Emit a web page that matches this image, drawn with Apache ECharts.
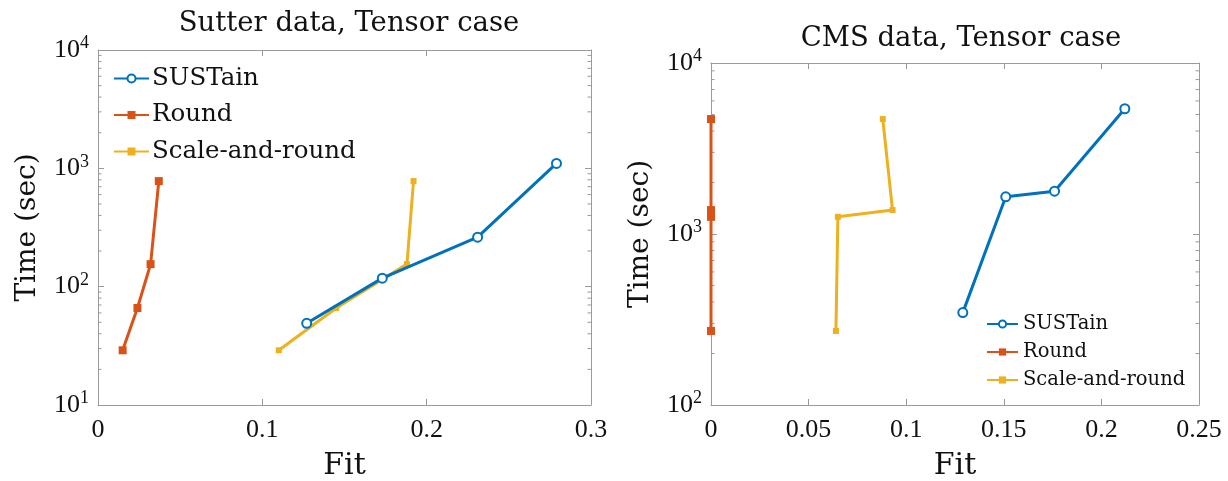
<!DOCTYPE html>
<html>
<head>
<meta charset="utf-8">
<script src="https://cdn.jsdelivr.net/npm/echarts@6/dist/echarts.min.js"></script>
<style>
	html, body { margin: 0; padding: 0; background: #fff; }
	#main { width: 1228px; height: 481px; }
</style>
</head>
<body>
<div id="main"></div>
<script>
	var seriesNames = ['SUSTain', 'Round', 'Scale-and-round'];
	var colors = ['#0072BD', '#D95319', '#EDB120'];

	// Sutter data, Tensor case
	var sutterSustainFit = [0.127, 0.173, 0.231, 0.279];
	var sutterSustainTime = [49, 118, 262, 1100];
	var sutterRoundFit = [0.015, 0.024, 0.032, 0.037];
	var sutterRoundTime = [29, 66, 155, 780];
	var sutterScaleFit = [0.110, 0.145, 0.188, 0.192];
	var sutterScaleTime = [29, 66, 155, 780];

	// CMS data, Tensor case
	var cmsSustainFit = [0.129, 0.151, 0.176, 0.212];
	var cmsSustainTime = [347, 1650, 1780, 5400];
	var cmsRoundFit = [0, 0, 0, 0];
	var cmsRoundTime = [271, 1260, 1380, 4700];
	var cmsScaleFit = [0.064, 0.065, 0.093, 0.088];
	var cmsScaleTime = [271, 1260, 1380, 4700];

	var titles = ['Sutter data, Tensor case', 'CMS data, Tensor case'];

	// words in a wide serif, numbers in a narrow one (closest to the LaTeX look)
	var wordFont = '"DejaVu Serif", "Liberation Serif", serif';
	var numFont = '"Liberation Serif", "DejaVu Serif", serif';
	var axisGrey = '#9a9a9a';

	function pairs(xs, ys) {
		return xs.map(function (x, i) { return [x, ys[i]]; });
	}

	function powLabel(v) {
		var e = Math.round(Math.log(v) / Math.LN10);
		return '{b|10}{s|' + e + '}';
	}

	function xAxisOf(grid, max, interval, top) {
		return {
			gridIndex: grid, type: 'value', min: 0, max: max, interval: interval,
			position: top ? 'top' : 'bottom',
			name: top ? '' : 'Fit', nameLocation: 'middle', nameGap: 46,
			nameTextStyle: { fontFamily: wordFont, fontSize: 30, color: '#111' },
			axisLine: { show: true, onZero: false, lineStyle: { color: axisGrey, width: 1 } },
			axisTick: { show: true, inside: true, length: 6, lineStyle: { color: axisGrey } },
			axisLabel: {
				show: !top, margin: 12, fontFamily: numFont, fontSize: 26, color: '#111',
				formatter: function (v) { return String(+v.toFixed(2)); }
			},
			splitLine: { show: false }
		};
	}

	function yAxisOf(grid, min, right) {
		return {
			gridIndex: grid, type: 'log', logBase: 10, min: min, max: 10000,
			position: right ? 'right' : 'left',
			name: right ? '' : 'Time (sec)', nameLocation: 'middle', nameGap: 56,
			nameTextStyle: { fontFamily: wordFont, fontSize: 28, color: '#111' },
			axisLine: { show: true, onZero: false, lineStyle: { color: axisGrey, width: 1 } },
			axisTick: { show: true, inside: true, length: 6, lineStyle: { color: axisGrey } },
			axisLabel: {
				show: !right, margin: 9, formatter: powLabel,
				rich: {
					b: { fontFamily: numFont, fontSize: 26, color: '#111' },
					s: { fontFamily: numFont, fontSize: 18, color: '#111', verticalAlign: 'bottom', padding: [0, 0, 13, 0] }
				}
			},
			splitLine: { show: false }
		};
	}

	function lineSeries(name, idx, grid, data) {
		var sym = ['emptyCircle', 'rect', 'rect'][idx];
		var size = [9, 8, 6][idx];
		return {
			name: name, type: 'line', xAxisIndex: grid * 2, yAxisIndex: grid * 2,
			data: data, symbol: sym, symbolSize: size, showSymbol: true,
			lineStyle: { color: colors[idx], width: 3 },
			itemStyle: { color: colors[idx], borderColor: colors[idx], borderWidth: idx === 0 ? 3 : 0 },
			animation: false, z: 3 - idx
		};
	}

	var chart = echarts.init(document.getElementById('main'), null, { renderer: 'canvas' });

	var option = {
		animation: false,
		color: colors,
		title: [
			{ text: titles[0], left: 344, top: 5, textAlign: 'center',
				textStyle: { fontFamily: wordFont, fontSize: 27.5, fontWeight: 'normal', color: '#111' } },
			{ text: titles[1], left: 956, top: 20, textAlign: 'center',
				textStyle: { fontFamily: wordFont, fontSize: 27.5, fontWeight: 'normal', color: '#111' } }
		],
		legend: [
			{
				data: seriesNames, orient: 'vertical', left: 113, top: 66, padding: 0,
				itemWidth: 35, itemHeight: 10, itemGap: 11.5,
				textStyle: { fontFamily: wordFont, fontSize: 24.5, color: '#111', padding: [0, 0, 0, -2] }
			},
			{
				data: seriesNames, orient: 'vertical', left: 986, top: 314, padding: 0,
				itemWidth: 31, itemHeight: 9, itemGap: 8,
				textStyle: { fontFamily: wordFont, fontSize: 19.5, color: '#111', padding: [0, 0, 0, 0] }
			}
		],
		grid: [
			{ left: 98, top: 50, width: 493, height: 355, outerBoundsMode: 'none' },
			{ left: 711, top: 63, width: 488, height: 342, outerBoundsMode: 'none' }
		],
		xAxis: [
			xAxisOf(0, 0.3, 0.1, false), xAxisOf(0, 0.3, 0.1, true),
			xAxisOf(1, 0.25, 0.05, false), xAxisOf(1, 0.25, 0.05, true)
		],
		yAxis: [
			yAxisOf(0, 10, false), yAxisOf(0, 10, true),
			yAxisOf(1, 100, false), yAxisOf(1, 100, true)
		],
		series: [
			lineSeries(seriesNames[0], 0, 0, pairs(sutterSustainFit, sutterSustainTime)),
			lineSeries(seriesNames[1], 1, 0, pairs(sutterRoundFit, sutterRoundTime)),
			lineSeries(seriesNames[2], 2, 0, pairs(sutterScaleFit, sutterScaleTime)),
			lineSeries(seriesNames[0], 0, 1, pairs(cmsSustainFit, cmsSustainTime)),
			lineSeries(seriesNames[1], 1, 1, pairs(cmsRoundFit, cmsRoundTime)),
			lineSeries(seriesNames[2], 2, 1, pairs(cmsScaleFit, cmsScaleTime))
		]
	};
	chart.setOption(option);

	// minor log ticks (2..9 x 10^k) on both sides of each box, placed through the axis scales
	function minorTicks(grid, xmin, xmax, ymin, ymax) {
		var els = [];
		for (var d = ymin; d < ymax; d *= 10) {
			for (var m = 2; m <= 9; m++) {
				var a = chart.convertToPixel({ xAxisIndex: grid * 2, yAxisIndex: grid * 2 }, [xmin, d * m]);
				var b = chart.convertToPixel({ xAxisIndex: grid * 2, yAxisIndex: grid * 2 }, [xmax, d * m]);
				els.push({ type: 'line', shape: { x1: a[0], y1: a[1], x2: a[0] + 3.5, y2: a[1] },
					style: { stroke: axisGrey, lineWidth: 1 }, silent: true });
				els.push({ type: 'line', shape: { x1: b[0], y1: b[1], x2: b[0] - 3.5, y2: b[1] },
					style: { stroke: axisGrey, lineWidth: 1 }, silent: true });
			}
		}
		return els;
	}
	chart.setOption({
		graphic: minorTicks(0, 0, 0.3, 10, 10000).concat(minorTicks(1, 0, 0.25, 100, 10000))
	});
</script>
</body>
</html>
